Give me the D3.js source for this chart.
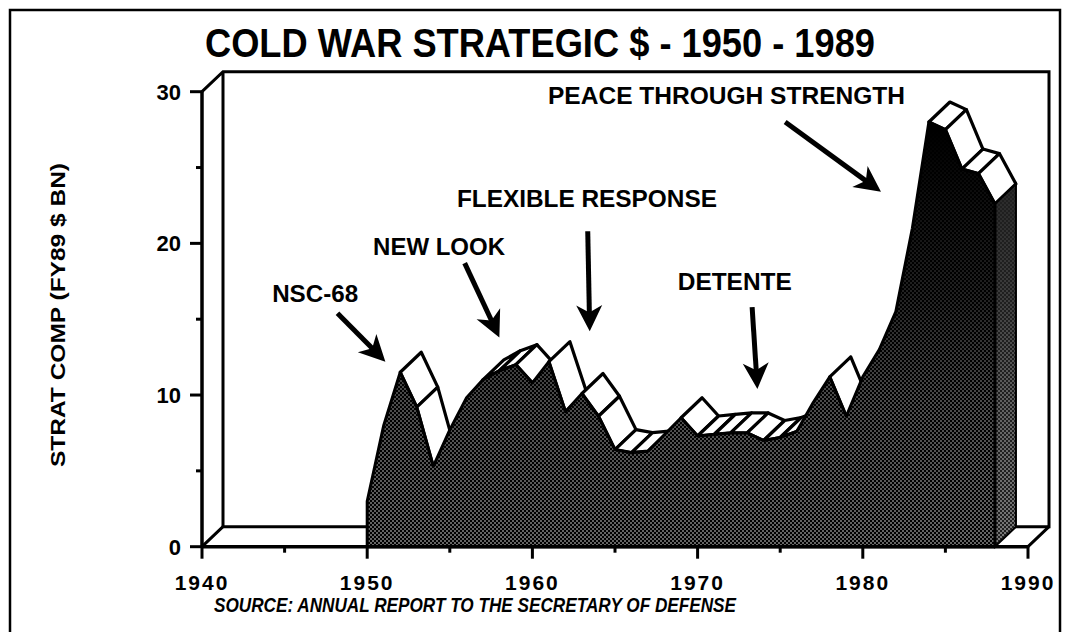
<!DOCTYPE html>
<html>
<head>
<meta charset="utf-8">
<script src="https://cdn.jsdelivr.net/npm/d3@7"></script>
<style>
  body { margin: 0; background: #fff; }
  svg { display: block; }
  text { font-family: "Liberation Sans", Arial, sans-serif; font-weight: bold; fill: #000; }
</style>
</head>
<body>
<div id="chart"></div>
<script>
// strategic forces spending, FY89 $ BN
var years = [1950,1951,1952,1953,1954,1955,1956,1957,1958,1959,
             1960,1961,1962,1963,1964,1965,1966,1967,1968,1969,
             1970,1971,1972,1973,1974,1975,1976,1977,1978,1979,
             1980,1981,1982,1983,1984,1985,1986,1987,1988];
var stratComp = [3.0, 8.0, 11.5, 9.2, 5.3, 7.7, 9.8, 11.0, 11.6, 12.0,
                 10.8, 12.2, 8.9, 10.1, 8.6, 6.4, 6.2, 6.3, 7.4, 8.5,
                 7.3, 7.4, 7.5, 7.5, 7.0, 7.2, 7.6, 9.5, 11.2, 8.6,
                 11.2, 13.0, 15.5, 21.0, 28.0, 27.5, 24.9, 24.6, 22.6];

var yTicks = [0, 10, 20, 30];
var yMinor = [5, 15, 25];
var xTicks = [1940, 1950, 1960, 1970, 1980, 1990];
var xMinor = [1945, 1955, 1965, 1975, 1985];

var title = "COLD WAR STRATEGIC $ - 1950 - 1989";
var yLabel = "STRAT COMP (FY89 $ BN)";
var source = "SOURCE: ANNUAL REPORT TO THE SECRETARY OF DEFENSE";

// annotations, anchored in data units (year, value)
var noteLabels = ["NSC-68", "NEW LOOK", "FLEXIBLE RESPONSE", "DETENTE", "PEACE THROUGH STRENGTH"];
var noteText   = [[1946.85, 16.7], [1954.35, 19.8], [1963.3, 23.0], [1972.25, 17.5], [1971.75, 29.8]];
var noteFrom   = [[1948.2, 15.4], [1955.9, 18.7], [1963.35, 20.8], [1973.3, 15.8], [1975.3, 28.0]];
var noteTo     = [[1951.1, 12.2], [1958.0, 13.8], [1963.47, 14.2], [1973.62, 10.4], [1981.1, 23.4]];

var width = 1065, height = 632;
var dx = 21, dy = -20;   // depth of the 3d box

var svg = d3.select("#chart").append("svg")
    .attr("width", width)
    .attr("height", height);

var defs = svg.append("defs");
var dots = defs.append("pattern").attr("id", "dots")
    .attr("width", 4).attr("height", 4)
    .attr("patternUnits", "userSpaceOnUse");
dots.append("circle").attr("cx", 1).attr("cy", 1).attr("r", 0.75).attr("fill", "#fff");
dots.append("circle").attr("cx", 3).attr("cy", 3).attr("r", 0.75).attr("fill", "#fff");

var fade = defs.append("linearGradient").attr("id", "fade")
    .attr("gradientUnits", "userSpaceOnUse")
    .attr("x1", 0).attr("x2", 0).attr("y1", 130).attr("y2", 546);
fade.append("stop").attr("offset", 0).attr("stop-color", "#000");
fade.append("stop").attr("offset", 0.4).attr("stop-color", "#555");
fade.append("stop").attr("offset", 0.65).attr("stop-color", "#bbb");
fade.append("stop").attr("offset", 1).attr("stop-color", "#fff");
defs.append("mask").attr("id", "fadeMask")
  .append("rect").attr("width", width).attr("height", height).attr("fill", "url(#fade)");

var x = d3.scaleLinear().domain([1940, 1990]).range([202, 1028]);
var y = d3.scaleLinear().domain([0, 30]).range([546.7, 91.7]);

// outer frame
svg.append("rect")
    .attr("x", 10).attr("y", 10)
    .attr("width", 1050).attr("height", 640)
    .attr("fill", "none").attr("stroke", "#000").attr("stroke-width", 2.5);

// title
svg.append("text")
    .attr("x", 540).attr("y", 57)
    .attr("text-anchor", "middle")
    .attr("font-size", 40)
    .attr("textLength", 670).attr("lengthAdjust", "spacingAndGlyphs")
    .text(title);

// box (walls and floor)
var box = svg.append("g").attr("fill", "none").attr("stroke", "#000").attr("stroke-width", 3);
var x0 = x(1940), x1 = x(1990), yb = y(0), yt = y(30);
box.append("path").attr("d",
    "M" + x0 + "," + yt + "L" + (x0 + dx) + "," + (yt + dy) +
    "L" + (x1 + dx) + "," + (yt + dy) + "L" + (x1 + dx) + "," + (yb + dy) +
    "L" + (x0 + dx) + "," + (yb + dy) + "L" + (x0 + dx) + "," + (yt + dy));
box.append("path").attr("d",
    "M" + x0 + "," + yb + "L" + (x0 + dx) + "," + (yb + dy) +
    "M" + x1 + "," + yb + "L" + (x1 + dx) + "," + (yb + dy));

// series
var data = years.map(function(yr, i) { return {year: yr, v: stratComp[i]}; });
var pts = data.map(function(d) { return [x(d.year), y(d.v)]; });

// top faces of the ribbon, only those that face the viewer
var faces = d3.pairs(pts).filter(function(p) {
    var ax = p[1][0] - p[0][0], ay = p[1][1] - p[0][1];
    return ax * dy - ay * dx < 0;
});
svg.append("g").selectAll("path")
    .data(faces)
    .join("path")
    .attr("d", function(p) {
        return "M" + p[0] + "L" + p[1] + "L" + [p[1][0] + dx, p[1][1] + dy] +
               "L" + [p[0][0] + dx, p[0][1] + dy] + "Z";
    })
    .attr("fill", "#fff")
    .attr("stroke", "#000")
    .attr("stroke-width", 3.2)
    .attr("stroke-linejoin", "round");

// right end face
var last = pts[pts.length - 1];
var side = "M" + last + "L" + [last[0] + dx, last[1] + dy] +
           "L" + [last[0] + dx, yb + dy] + "L" + [last[0], yb] + "Z";
svg.append("path").attr("d", side).attr("fill", "#000");
svg.append("path").attr("d", side).attr("fill", "url(#dots)").attr("mask", "url(#fadeMask)");
svg.append("path").attr("d", side).attr("fill", "#fff").attr("opacity", 0.12);
svg.append("path").attr("d", side).attr("fill", "none").attr("stroke", "#000").attr("stroke-width", 2);

// front face
var area = d3.area()
    .x(function(d) { return x(d.year); })
    .y0(y(0))
    .y1(function(d) { return y(d.v); });
svg.append("path").datum(data).attr("d", area).attr("fill", "#000");
svg.append("path").datum(data).attr("d", area)
    .attr("fill", "url(#dots)").attr("mask", "url(#fadeMask)");
svg.append("path").datum(data).attr("d", area)
    .attr("fill", "none").attr("stroke", "#000").attr("stroke-width", 3).attr("stroke-linejoin", "round");

// axes
var axes = svg.append("g").attr("stroke", "#000");
axes.append("line").attr("x1", x0).attr("x2", x0).attr("y1", yt).attr("y2", yb).attr("stroke-width", 3.5);
axes.append("line").attr("x1", x0).attr("x2", x1).attr("y1", yb).attr("y2", yb).attr("stroke-width", 3.5);
axes.selectAll(".yt").data(yTicks).join("line")
    .attr("x1", x0 - 12).attr("x2", x0).attr("y1", y).attr("y2", y).attr("stroke-width", 3);
axes.selectAll(".ym").data(yMinor).join("line")
    .attr("x1", x0 - 6).attr("x2", x0).attr("y1", y).attr("y2", y).attr("stroke-width", 3);
axes.selectAll(".xt").data(xTicks).join("line")
    .attr("x1", x).attr("x2", x).attr("y1", yb).attr("y2", yb + 12).attr("stroke-width", 3);
axes.selectAll(".xm").data(xMinor).join("line")
    .attr("x1", x).attr("x2", x).attr("y1", yb).attr("y2", yb + 6).attr("stroke-width", 3);

svg.append("g").selectAll("text").data(yTicks).join("text")
    .attr("x", 181).attr("y", function(d) { return y(d) + 8; })
    .attr("text-anchor", "end").attr("font-size", 22)
    .text(function(d) { return d; });

svg.append("g").selectAll("text").data(xTicks).join("text")
    .attr("x", x).attr("y", 590)
    .attr("text-anchor", "middle").attr("font-size", 21)
    .attr("letter-spacing", 2)
    .text(function(d) { return d; });

svg.append("text")
    .attr("transform", "translate(65,315) rotate(-90)")
    .attr("text-anchor", "middle").attr("font-size", 21)
    .attr("textLength", 304).attr("lengthAdjust", "spacingAndGlyphs")
    .text(yLabel);

svg.append("text")
    .attr("x", 475).attr("y", 612)
    .attr("text-anchor", "middle").attr("font-size", 21).attr("font-style", "italic")
    .attr("textLength", 522).attr("lengthAdjust", "spacingAndGlyphs")
    .text(source);

// annotations
var noteWidths = [86, 132, 260, 114, 357];
var notes = svg.append("g");
noteLabels.forEach(function(label, i) {
    notes.append("text")
        .attr("x", x(noteText[i][0])).attr("y", y(noteText[i][1]) + 9)
        .attr("text-anchor", "middle").attr("font-size", 24)
        .attr("textLength", noteWidths[i]).attr("lengthAdjust", "spacingAndGlyphs")
        .text(label);

    var ax = x(noteFrom[i][0]), ay = y(noteFrom[i][1]);
    var bx = x(noteTo[i][0]), by = y(noteTo[i][1]);
    var len = Math.hypot(bx - ax, by - ay), ux = (bx - ax) / len, uy = (by - ay) / len;
    var hl = 26, hw = 13;
    notes.append("line")
        .attr("x1", ax).attr("y1", ay)
        .attr("x2", bx - ux * hl * 0.6).attr("y2", by - uy * hl * 0.6)
        .attr("stroke", "#000").attr("stroke-width", 5);
    var head = [
        [bx, by],
        [bx - ux * hl - uy * hw, by - uy * hl + ux * hw],
        [bx - ux * hl * 0.72, by - uy * hl * 0.72],
        [bx - ux * hl + uy * hw, by - uy * hl - ux * hw]
    ];
    notes.append("path").attr("d", "M" + head.join("L") + "Z").attr("fill", "#000");
});
</script>
</body>
</html>
